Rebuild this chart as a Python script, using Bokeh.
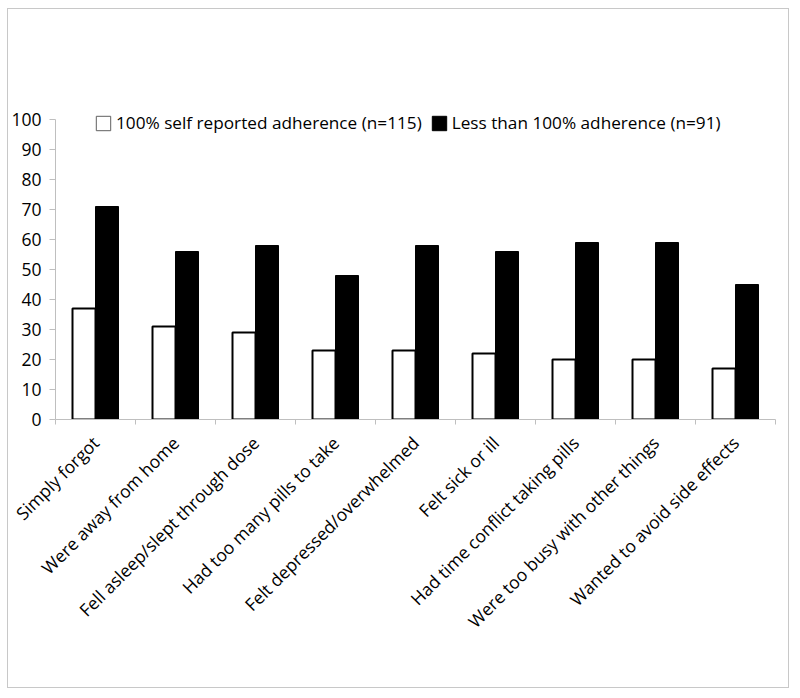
import math
import numpy as np
from bokeh.plotting import figure
from bokeh.models import ColumnDataSource, FixedTicker, Range1d, Legend, LegendItem
from bokeh.transform import dodge
from bokeh.embed import file_html
from bokeh.resources import INLINE

categories = [
    "Simply forgot",
    "Were away from home",
    "Fell asleep/slept through dose",
    "Had too many pills to take",
    "Felt depressed/overwhelmed",
    "Felt sick or ill",
    "Had time conflict taking pills",
    "Were too busy with other things",
    "Wanted to avoid side effects",
]
adherent = [37, 31, 29, 23, 23, 22, 20, 20, 17]
non_adherent = [71, 56, 58, 48, 58, 56, 59, 59, 45]
y_ticks = [0, 10, 20, 30, 40, 50, 60, 70, 80, 90, 100]
series_labels = ["100% self reported adherence (n=115)", "Less than 100% adherence (n=91)"]

FONT = "Open Sans"
GREY = "#bfbfbf"

n = len(categories)
centers = np.arange(n) + 0.5
source = ColumnDataSource(dict(x=centers, a=adherent, b=non_adherent))

p = figure(
    width=782, height=680,
    x_range=Range1d(0, n), y_range=Range1d(0, 103),
    output_backend="svg", toolbar_location=None,
    min_border_left=46, min_border_right=15,
    min_border_top=101, min_border_bottom=270,
)
p.margin = (8, 0, 0, 7)
p.styles = {"border": "1px solid #c8c8c8"}
p.outline_line_color = None
p.xgrid.visible = False
p.ygrid.visible = False

bw = 0.2875
r1 = p.vbar(x=dodge("x", -bw / 2, range=p.x_range), top="a", width=bw, bottom=0,
            fill_color="white", line_color="black", line_width=2, source=source)
r2 = p.vbar(x=dodge("x", bw / 2, range=p.x_range), top="b", width=bw, bottom=0,
            fill_color="black", line_color="black", line_width=1, source=source)

# legend-only glyphs (hidden renderers on the same data)
lg1 = p.vbar(x="x", top="a", width=0.1, fill_color="white", line_color="#606060",
             line_width=1, source=source, visible=False)
lg2 = p.vbar(x="x", top="b", width=0.1, fill_color="black", line_color="black",
             line_width=1, source=source, visible=False)

legend = Legend(items=[LegendItem(label=series_labels[0], renderers=[lg1]),
                       LegendItem(label=series_labels[1], renderers=[lg2])],
                orientation="horizontal", location=(39, 285),
                padding=0, margin=0, spacing=8,
                glyph_width=18, glyph_height=18, label_standoff=4,
                label_text_font=FONT, label_text_font_size="17.2px",
                label_text_color="black", label_height=18,
                inactive_fill_alpha=0,
                border_line_color=None, background_fill_alpha=0)
p.add_layout(legend, "center")

# x axis
xa = p.xaxis[0]
xa.ticker = FixedTicker(ticks=list(centers), minor_ticks=list(range(n + 1)))
xa.major_label_overrides = {float(c): name for c, name in zip(centers, categories)}
xa.major_tick_line_color = None
xa.minor_tick_in = 0
xa.minor_tick_out = 5
xa.minor_tick_line_color = GREY
xa.axis_line_color = GREY
xa.major_label_orientation = math.pi / 4
xa.major_label_text_font = FONT
xa.major_label_text_font_size = "17.5px"
xa.major_label_text_color = "black"
xa.major_label_standoff = 14

# y axis
ya = p.yaxis[0]
ya.ticker = FixedTicker(ticks=y_ticks, minor_ticks=[])
ya.bounds = (y_ticks[0], y_ticks[-1])
ya.axis_line_color = GREY
ya.major_tick_line_color = GREY
ya.major_tick_in = 0
ya.major_tick_out = 6
ya.major_label_text_font = FONT
ya.major_label_text_font_size = "17.5px"
ya.major_label_text_color = "black"
ya.major_label_standoff = 8

open("out.html", "w").write(file_html(p, INLINE))
